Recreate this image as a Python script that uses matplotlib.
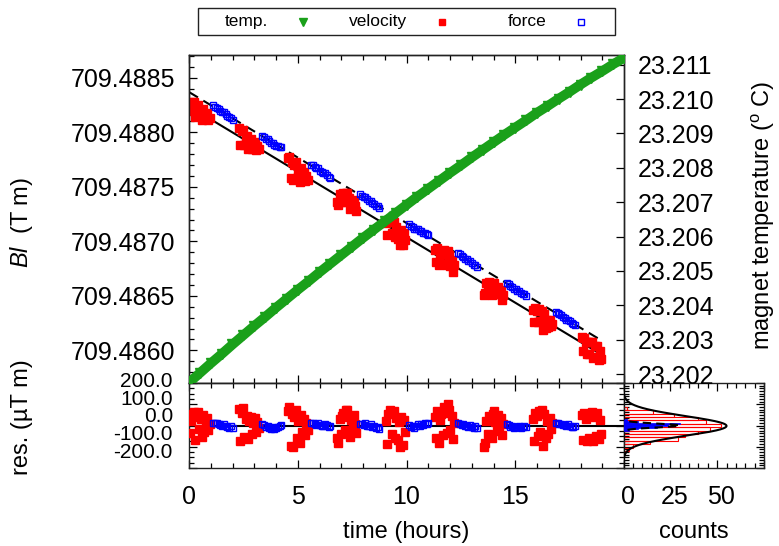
import matplotlib
matplotlib.use('Agg')
import matplotlib.pyplot as plt
import numpy as np
from matplotlib.lines import Line2D
from matplotlib.patches import Rectangle
from matplotlib.ticker import MultipleLocator, FixedLocator, FormatStrFormatter, NullFormatter
import matplotlib.transforms as mtransforms

plt.rcParams['font.family'] = ['Liberation Sans', 'DejaVu Sans']
plt.rcParams['mathtext.fontset'] = 'custom'
plt.rcParams['mathtext.it'] = 'Liberation Sans:italic'
plt.rcParams['mathtext.rm'] = 'Liberation Sans'

# ---------------- data ----------------
# magnet temperature (deg C) vs time (hours)
temp_t = [0.0, 0.5, 1.0, 1.5, 2.0, 2.5, 3.0, 3.5, 4.0, 4.5, 5.0, 5.5, 6.0, 6.5, 7.0,
          7.5, 8.0, 8.5, 9.0, 9.5, 10.0, 10.5, 11.0, 11.5, 12.0, 12.5, 13.0, 13.5,
          14.0, 14.5, 15.0, 15.5, 16.0, 16.5, 17.0, 17.5, 18.0, 18.5, 19.0, 19.5, 20.0]
temp_c = [23.20175, 23.20203, 23.20231, 23.20258, 23.20286, 23.20313, 23.20340,
          23.20366, 23.20393, 23.20419, 23.20445, 23.20470, 23.20496, 23.20521,
          23.20546, 23.20571, 23.20596, 23.20620, 23.20644, 23.20668, 23.20692,
          23.20716, 23.20739, 23.20762, 23.20785, 23.20807, 23.20830, 23.20852,
          23.20874, 23.20896, 23.20917, 23.20938, 23.20960, 23.20980, 23.21001,
          23.21021, 23.21042, 23.21062, 23.21081, 23.21101, 23.21120]

# velocity-mode measurements: time (h) and residual from fit (uT m)
vel_t = [0.05, 0.11, 0.17, 0.23, 0.29, 0.35, 0.41, 0.47, 0.53, 0.59, 0.65, 0.71, 0.77, 0.83, 0.89, 0.95,
         2.30, 2.36, 2.42, 2.48, 2.54, 2.60, 2.66, 2.72, 2.78, 2.84, 2.90, 2.96, 3.02, 3.08, 3.14, 3.20,
         4.55, 4.61, 4.67, 4.73, 4.79, 4.85, 4.91, 4.97, 5.03, 5.09, 5.15, 5.21, 5.27, 5.33, 5.39, 5.45,
         6.80, 6.86, 6.92, 6.98, 7.04, 7.10, 7.16, 7.22, 7.28, 7.34, 7.40, 7.46, 7.52, 7.58, 7.64, 7.70,
         9.05, 9.11, 9.17, 9.23, 9.29, 9.35, 9.41, 9.47, 9.53, 9.59, 9.65, 9.71, 9.77, 9.83, 9.89, 9.95,
         11.30, 11.36, 11.42, 11.48, 11.54, 11.60, 11.66, 11.72, 11.78, 11.84, 11.90, 11.96, 12.02, 12.08, 12.14, 12.20,
         13.55, 13.61, 13.67, 13.73, 13.79, 13.85, 13.91, 13.97, 14.03, 14.09, 14.15, 14.21, 14.27, 14.33, 14.39, 14.45,
         15.80, 15.86, 15.92, 15.98, 16.04, 16.10, 16.16, 16.22, 16.28, 16.34, 16.40, 16.46, 16.52, 16.58, 16.64, 16.70,
         18.05, 18.11, 18.17, 18.23, 18.29, 18.35, 18.41, 18.47, 18.53, 18.59, 18.65, 18.71, 18.77, 18.83, 18.89, 18.95]
vel_res = [-35, 20, 55, 62, -68, 40, 65, -15, 30, -55, 50, -30, 10, 35, -20, 5,
           80, -72, 60, 84, -55, 30, 45, -65, 20, 40, -40, 10, 35, -30, 15, -10,
           70, 89, -95, 55, -103, 40, 75, -60, 20, -80, 50, -30, 30, -45, 10, -20,
           -60, -80, 30, -40, 45, 60, -20, 72, 75, 40, -55, 25, -10, 50, 5, -35,
           20, -85, 55, 72, 65, -40, 70, -60, 35, -70, 15, -103, 40, -90, 25, -30,
           40, -60, 70, -80, 25, 55, -45, 85, 60, -35, 100, 75, -20, 45, -65, 10,
           -103, -80, 20, -40, 45, 30, -60, 55, 66, 15, -25, 50, -10, 35, -45, 5,
           30, -75, 60, 45, -50, 70, -30, 72, -95, 55, -60, 20, -40, 35, -15, 10,
           50, -70, 60, 30, -75, 45, -60, 55, 64, -72, 40, -50, 60, -65, 25, -40]

# force-mode measurements: time (h) and residual from fit (uT m)
force_t = [1.12, 1.20, 1.28, 1.36, 1.44, 1.52, 1.60, 1.68, 1.76, 1.84, 1.92, 2.00,
           3.37, 3.45, 3.53, 3.61, 3.69, 3.77, 3.85, 3.93, 4.01, 4.09, 4.17, 4.25,
           5.62, 5.70, 5.78, 5.86, 5.94, 6.02, 6.10, 6.18, 6.26, 6.34, 6.42, 6.50,
           7.87, 7.95, 8.03, 8.11, 8.19, 8.27, 8.35, 8.43, 8.51, 8.59, 8.67, 8.75,
           10.12, 10.20, 10.28, 10.36, 10.44, 10.52, 10.60, 10.68, 10.76, 10.84, 10.92, 11.00,
           12.37, 12.45, 12.53, 12.61, 12.69, 12.77, 12.85, 12.93, 13.01, 13.09, 13.17, 13.25,
           14.62, 14.70, 14.78, 14.86, 14.94, 15.02, 15.10, 15.18, 15.26, 15.34, 15.42, 15.50,
           16.87, 16.95, 17.03, 17.11, 17.19, 17.27, 17.35, 17.43, 17.51, 17.59, 17.67, 17.75]
force_res = [14, 10, 12, 6, 3, -2, 8, 0, -6, -10, -4, -14,
             6, 2, -5, 0, -10, -15, -8, -18, -12, -6, -2, 4,
             10, 12, 7, 4, 14, 2, 0, -4, 6, 1, -8, -3,
             8, 5, 2, 10, 0, -4, 6, -8, -3, -12, -6, -16,
             2, -6, 0, -10, -4, 5, -2, 8, 3, 10, 6, 12,
             10, 7, 2, 6, -3, 0, -6, 4, -5, -10, -3, -13,
             5, 2, -7, -4, -12, -6, -9, 0, -14, -5, -2, -8,
             12, 14, 9, 7, 4, 2, -3, 6, 0, -5, -8, -4]

# linear fits Bl(t) = intercept + slope * t  (T m, hours)
vel_fit_intercept = 709.48824
force_fit_intercept = 709.48837
fit_slope = -0.0001202
fit_t_range = [0.0, 19.0]

# residual histograms (bin centre in uT m, counts)
vel_hist_centers = [80, 64, 48, 32, 16, 0, -16, -32, -48, -64, -80, -96, -112]
vel_hist_counts = [2, 16, 27, 40, 44, 52, 46, 40, 33, 29, 14, 5, 3]
vel_hist_width = 16
force_hist_centers = [26, 18, 10, 2, -6, -14, -22]
force_hist_counts = [2, 8, 30, 24, 18, 8, 3]
force_hist_width = 8
# gaussian fits of the histograms: amplitude, mean, sigma
vel_gauss = (55.0, -2.0, 46.0)
force_gauss = (30.0, 0.0, 9.0)

# ---------------- layout ----------------
W, H = 779, 546
fig = plt.figure(figsize=(W / 100, H / 100), dpi=100)

def box(x0, y0, x1, y1):
    return [x0 / W, 1 - y1 / H, (x1 - x0) / W, (y1 - y0) / H]

TICK_FS = 18
RES_FS = 15
LABEL_FS = 17
GREEN = '#1aa01a'

ax = fig.add_axes(box(189, 55, 624, 383))
ax_r = fig.add_axes(box(189, 383, 624, 468))
ax_h = fig.add_axes(box(623.5, 383, 764, 468))

for a in (ax, ax_r, ax_h):
    for s in a.spines.values():
        s.set_linewidth(1.0)
        s.set_color('#222222')
    a.tick_params(which='both', direction='in', top=True, right=True, width=0.9,
                  labelsize=TICK_FS)
    a.tick_params(which='major', length=6)
    a.tick_params(which='minor', length=3.5)

t_fit = np.array(fit_t_range)
vt = np.array(vel_t)
ft = np.array(force_t)
vel_bl = vel_fit_intercept + fit_slope * vt + np.array(vel_res) * 1e-6
force_bl = force_fit_intercept + fit_slope * ft + np.array(force_res) * 1e-6

# ---- top panel ----
ax.plot(t_fit, vel_fit_intercept + fit_slope * t_fit, color='black', lw=1.5, zorder=2)
ax.plot(t_fit, force_fit_intercept + fit_slope * t_fit, color='black', lw=1.5,
        ls=(0, (5, 3)), zorder=2)
ax.plot(vt, vel_bl, ls='none', marker='s', ms=5.4, color='red', mec='red', zorder=3)
ax.plot(ft, force_bl, ls='none', marker='s', ms=4.4, mfc='none', mec='blue', mew=1.0, zorder=3)
ax.set_xlim(0, 20)
ax.set_ylim(709.48570, 709.48871)
ax.yaxis.set_major_locator(FixedLocator([709.4860, 709.4865, 709.4870, 709.4875, 709.4880, 709.4885]))
ax.yaxis.set_minor_locator(MultipleLocator(0.0001))
ax.yaxis.set_major_formatter(FormatStrFormatter('%.4f'))
ax.xaxis.set_major_locator(MultipleLocator(5))
ax.xaxis.set_minor_locator(MultipleLocator(1))
ax.xaxis.set_major_formatter(NullFormatter())
ax.tick_params(axis='y', right=False, pad=10)
ax.set_ylabel(r'$Bl$  (T m)', fontsize=LABEL_FS, va='center')
ax.yaxis.set_label_coords(-0.384, 0.49)

ax_t = ax.twinx()
ax_t.plot(temp_t, temp_c, color=GREEN, lw=7, solid_capstyle='butt', zorder=4)
ax_t.plot(temp_t, temp_c, ls='none', marker='v', ms=7, color=GREEN, zorder=4)
ax_t.set_ylim(23.20174, 23.21128)
ax_t.yaxis.set_major_locator(FixedLocator([23.202 + 0.001 * i for i in range(10)]))
ax_t.yaxis.set_major_formatter(FormatStrFormatter('%.3f'))
ax_t.tick_params(axis='y', direction='in', length=6, width=0.9, labelsize=TICK_FS, pad=10)
ax_t.set_ylabel(r'magnet temperature ($^{\rm o}$ C)', fontsize=LABEL_FS, rotation=90,
                va='center')
ax_t.yaxis.set_label_coords(1.3195, 0.51)
for s in ax_t.spines.values():
    s.set_linewidth(1.0)
    s.set_color('#222222')

# ---- residual panel ----
ax_r.axhline(0, color='black', lw=1.5, zorder=2)
ax_r.plot(vt, vel_res, ls='none', marker='s', ms=5.4, color='red', zorder=3)
ax_r.plot(ft, force_res, ls='none', marker='s', ms=4.4, mfc='none', mec='blue', mew=1.0, zorder=3)
ax_r.set_xlim(0, 20)
ax_r.set_ylim(-200, 200)
res_ticks = [200, 100, 0, -100, -200]
ax_r.yaxis.set_major_locator(FixedLocator(res_ticks))
ax_r.yaxis.set_minor_locator(MultipleLocator(25))
ax_r.yaxis.set_major_formatter(NullFormatter())
for v in res_ticks:
    ax_r.text(-0.037, 0.6 + 0.21 * v / 100, '%.1f' % v, transform=ax_r.transAxes,
              ha='right', va='center', fontsize=RES_FS)
ax_r.set_xticks([0, 5, 10, 15, 20])
ax_r.set_xticklabels(['0', '5', '10', '15', ''])
ax_r.xaxis.set_minor_locator(MultipleLocator(1))
ax_r.tick_params(axis='x', pad=12)
ax_r.set_xlabel('time (hours)', fontsize=LABEL_FS, labelpad=9)
ax_r.set_ylabel('res. (\u00b5T m)', fontsize=LABEL_FS, va='center')
ax_r.yaxis.set_label_coords(-0.384, 0.6)

# ---- histogram panel ----
ax_h.barh(vel_hist_centers, vel_hist_counts, height=vel_hist_width, fill=False,
          edgecolor='red', lw=0.8, zorder=2)
ax_h.barh(force_hist_centers, force_hist_counts, height=force_hist_width,
          color='blue', edgecolor='blue', lw=0.5, zorder=3)
yy = np.linspace(-200, 200, 801)
A, mu, sg = vel_gauss
ax_h.plot(A * np.exp(-(yy - mu) ** 2 / (2 * sg ** 2)), yy, color='black', lw=1.5, zorder=4)
A, mu, sg = force_gauss
ax_h.plot(A * np.exp(-(yy - mu) ** 2 / (2 * sg ** 2)), yy, color='black', lw=1.5,
          ls=(0, (4, 2.5)), zorder=4)
ax_h.set_xlim(0, 75)
ax_h.set_ylim(-200, 200)
ax_h.set_xticks([0, 25, 50, 75])
ax_h.set_xticklabels(['0', '25', '50', ''])
ax_h.xaxis.set_minor_locator(MultipleLocator(5))
ax_h.yaxis.set_major_locator(FixedLocator(res_ticks))
ax_h.yaxis.set_minor_locator(MultipleLocator(12.5))
ax_h.yaxis.set_major_formatter(NullFormatter())
ax_h.tick_params(axis='x', pad=12)
off = mtransforms.ScaledTranslation(4 / 100, 0, fig.dpi_scale_trans)
for lab in ax_h.get_xticklabels():
    lab.set_transform(lab.get_transform() + off)
ax_h.set_xlabel('counts', fontsize=LABEL_FS, labelpad=9)

# ---- legend (gnuplot style: text then sample) ----
fig.add_artist(Rectangle((198 / W, 1 - 35 / H), (615 - 198) / W, 27 / H,
                         transform=fig.transFigure, fill=False, edgecolor='#222222', lw=1.0))
leg_labels = ['temp.', 'velocity', 'force']
leg_styles = [dict(marker='v', color=GREEN, ms=6),
              dict(marker='s', color='red', ms=5),
              dict(marker='s', mfc='none', mec='blue', mew=1.0, ms=4.5)]
ly = 1 - 21.5 / H
for i, (lab, st) in enumerate(zip(leg_labels, leg_styles)):
    xr = (268 + 139 * i) / W
    fig.text(xr, ly, lab, ha='right', va='center', fontsize=12.5)
    fig.add_artist(Line2D([xr + 35 / W], [ly], transform=fig.transFigure, ls='none', **st))

fig.savefig('out.png', dpi=100)
